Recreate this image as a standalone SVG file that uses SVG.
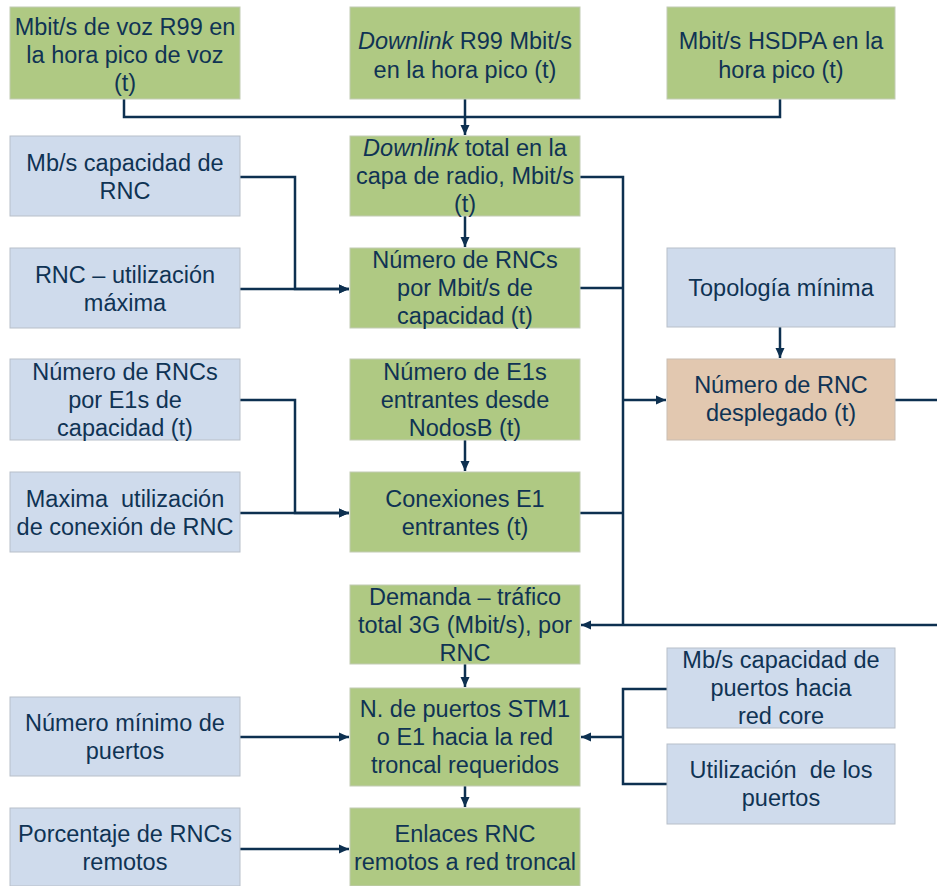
<svg xmlns="http://www.w3.org/2000/svg" width="937" height="886" viewBox="0 0 937 886">
<defs>
<style>
.g{fill:#AFC983;stroke:#C2CBB4;stroke-width:1}
.b{fill:#CFDBEC;stroke:#B8BFC9;stroke-width:1}
.o{fill:#E2C8B0;stroke:#C9BDB2;stroke-width:1}
text{font-family:"Liberation Sans",Arial,sans-serif;font-size:23.5px;fill:#0F3354;text-anchor:middle}
.c path{fill:none;stroke:#0D3050;stroke-width:2.5}
</style>
<marker id="ah" markerUnits="userSpaceOnUse" markerWidth="12" markerHeight="12" viewBox="0 0 12 12" refX="11" refY="6" orient="auto">
<path d="M1,1.5 L11,6 L1,10.5 Z" fill="#0D3050"/>
</marker>
</defs>
<rect width="937" height="886" fill="#FFFFFF"/>

<g class="c" id="connectors">
<path d="M124,99 V117 H780 V99"/>
<path d="M465,99 V135" marker-end="url(#ah)"/>
<path d="M240,177 H295 V289 H349" marker-end="url(#ah)"/>
<path d="M240,289 H349" marker-end="url(#ah)"/>
<path d="M465,216 V247" marker-end="url(#ah)"/>
<path d="M580,177 H623 V625"/>
<path d="M937,625 H581" marker-end="url(#ah)"/>
<path d="M580,288 H623"/>
<path d="M580,513 H623"/>
<path d="M623,400 H666" marker-end="url(#ah)"/>
<path d="M895,400 H937"/>
<path d="M780,327 V358" marker-end="url(#ah)"/>
<path d="M240,400 H295 V513 H349" marker-end="url(#ah)"/>
<path d="M240,513 H349" marker-end="url(#ah)"/>
<path d="M465,440 V471" marker-end="url(#ah)"/>
<path d="M465,664 V687" marker-end="url(#ah)"/>
<path d="M240,737 H349" marker-end="url(#ah)"/>
<path d="M667,689 H623 V784 H667"/>
<path d="M623,737 H581" marker-end="url(#ah)"/>
<path d="M465,786 V807" marker-end="url(#ah)"/>
<path d="M240,849 H349" marker-end="url(#ah)"/>
</g>

<g id="voz-r99">
<rect class="g" x="10" y="7" width="230" height="92"/>
<text x="125" y="35">Mbit/s de voz R99 en</text>
<text x="125" y="63">la hora pico de voz</text>
<text x="125" y="91">(t)</text>
</g>
<g id="downlink-r99">
<rect class="g" x="350" y="7" width="230" height="92"/>
<text x="465" y="49"><tspan font-style="italic">Downlink</tspan> R99 Mbit/s</text>
<text x="465" y="78">en la hora pico (t)</text>
</g>
<g id="hsdpa">
<rect class="g" x="667" y="7" width="228" height="92"/>
<text x="781" y="49">Mbit/s HSDPA en la</text>
<text x="781" y="78">hora pico (t)</text>
</g>

<g id="cap-rnc">
<rect class="b" x="10" y="136" width="230" height="80"/>
<text x="125" y="171">Mb/s capacidad de</text>
<text x="125" y="199">RNC</text>
</g>
<g id="downlink-total">
<rect class="g" x="350" y="136" width="230" height="80"/>
<text x="465" y="156"><tspan font-style="italic">Downlink</tspan> total en la</text>
<text x="465" y="184">capa de radio, Mbit/s</text>
<text x="465" y="212">(t)</text>
</g>

<g id="rnc-util">
<rect class="b" x="10" y="248" width="230" height="80"/>
<text x="125" y="283">RNC – utilización</text>
<text x="125" y="311">máxima</text>
</g>
<g id="rncs-mbit">
<rect class="g" x="350" y="248" width="230" height="80"/>
<text x="465" y="268">Número de RNCs</text>
<text x="465" y="296">por Mbit/s de</text>
<text x="465" y="324">capacidad (t)</text>
</g>
<g id="topologia">
<rect class="b" x="667" y="248" width="228" height="79"/>
<text x="781" y="296">Topología mínima</text>
</g>

<g id="rncs-e1">
<rect class="b" x="10" y="359" width="230" height="81"/>
<text x="125" y="380">Número de RNCs</text>
<text x="125" y="408">por E1s de</text>
<text x="125" y="436">capacidad (t)</text>
</g>
<g id="e1s-nodosb">
<rect class="g" x="350" y="359" width="230" height="81"/>
<text x="465" y="380">Número de E1s</text>
<text x="465" y="408">entrantes desde</text>
<text x="465" y="436">NodosB (t)</text>
</g>
<g id="rnc-desplegado">
<rect class="o" x="667" y="359" width="228" height="81"/>
<text x="781" y="393">Número de RNC</text>
<text x="781" y="421">desplegado (t)</text>
</g>

<g id="max-util">
<rect class="b" x="10" y="472" width="230" height="80"/>
<text x="125" y="507">Maxima&#160; utilización</text>
<text x="125" y="535">de conexión de RNC</text>
</g>
<g id="conexiones-e1">
<rect class="g" x="350" y="472" width="230" height="80"/>
<text x="465" y="507">Conexiones E1</text>
<text x="465" y="535">entrantes (t)</text>
</g>

<g id="demanda">
<rect class="g" x="350" y="585" width="230" height="79"/>
<text x="465" y="605">Demanda – tráfico</text>
<text x="465" y="633">total 3G (Mbit/s), por</text>
<text x="465" y="661">RNC</text>
</g>

<g id="cap-puertos">
<rect class="b" x="667" y="648" width="228" height="80"/>
<text x="781" y="668">Mb/s capacidad de</text>
<text x="781" y="696">puertos hacia</text>
<text x="781" y="724">red core</text>
</g>
<g id="min-puertos">
<rect class="b" x="10" y="697" width="230" height="79"/>
<text x="125" y="731">Número mínimo de</text>
<text x="125" y="759">puertos</text>
</g>
<g id="puertos-stm1">
<rect class="g" x="350" y="688" width="230" height="98"/>
<text x="465" y="717">N. de puertos STM1</text>
<text x="465" y="745">o E1 hacia la red</text>
<text x="465" y="773">troncal requeridos</text>
</g>
<g id="util-puertos">
<rect class="b" x="667" y="744" width="228" height="80"/>
<text x="781" y="778">Utilización&#160; de los</text>
<text x="781" y="806">puertos</text>
</g>

<g id="pct-remotos">
<rect class="b" x="10" y="808" width="230" height="78"/>
<text x="125" y="842">Porcentaje de RNCs</text>
<text x="125" y="870">remotos</text>
</g>
<g id="enlaces">
<rect class="g" x="350" y="808" width="230" height="78"/>
<text x="465" y="842">Enlaces RNC</text>
<text x="465" y="870">remotos a red troncal</text>
</g>
</svg>
